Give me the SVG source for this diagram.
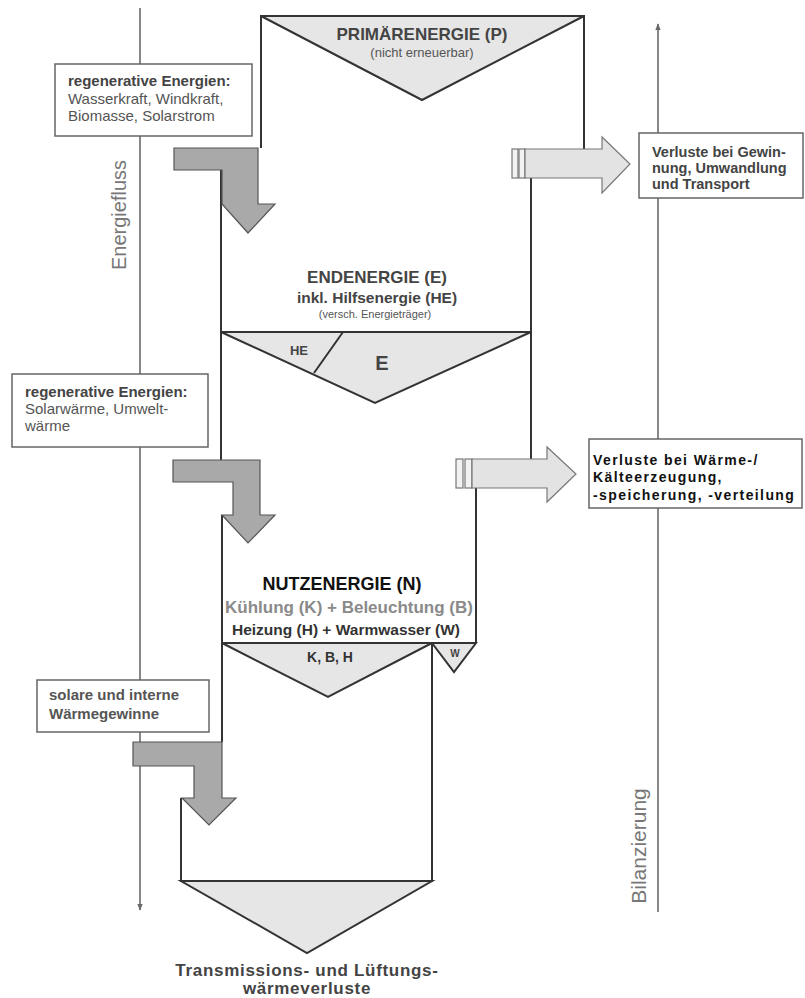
<svg xmlns="http://www.w3.org/2000/svg" width="805" height="998" viewBox="0 0 805 998">
<defs>
<style>
text{font-family:"Liberation Sans",Arial,sans-serif}
.edge{stroke:#333;stroke-width:2;fill:none}
.tri{fill:#e6e6e6;stroke:#333;stroke-width:2;stroke-linejoin:miter}
.gain{fill:#a9a9a9;stroke:#555;stroke-width:1.2}
.loss{fill:#e3e3e3;stroke:#777;stroke-width:1.2}
.bar{fill:#f2f2f2;stroke:#777;stroke-width:1.2}
.box{fill:#fff;stroke:#666;stroke-width:1.5}
.axis{stroke:#6a6a6a;stroke-width:1.6;fill:none}
.b{font-weight:bold}
.c{text-anchor:middle}
</style>
<marker id="ah" viewBox="0 0 10 10" refX="9" refY="5" markerWidth="7" markerHeight="7" orient="auto" markerUnits="userSpaceOnUse">
<path d="M0,1 L10,5 L0,9 Z" fill="#6a6a6a"/>
</marker>
</defs>
<rect width="805" height="998" fill="#fff"/>

<g id="connectors">
<line class="axis" x1="140" y1="8" x2="140" y2="910" marker-end="url(#ah)"/>
<line class="axis" x1="658" y1="912" x2="658" y2="24" marker-end="url(#ah)"/>
<text transform="translate(126,215) rotate(-90)" class="c" font-size="20" fill="#777">Energiefluss</text>
<text transform="translate(646,846) rotate(-90)" class="c" font-size="21" fill="#777">Bilanzierung</text>
</g>

<g id="primaerenergie">
<polygon class="tri" points="261,16 584,16 422,100"/>
<polyline class="edge" points="261,148 261,16 584,16 584,150"/>
<text x="422" y="40" class="b c" font-size="17" fill="#444">PRIMÄRENERGIE (P)</text>
<text x="422" y="57" class="c" font-size="13" fill="#555">(nicht erneuerbar)</text>
</g>

<g id="endenergie">
<line class="edge" x1="221" y1="170" x2="221" y2="460"/>
<line class="edge" x1="531" y1="178" x2="531" y2="459"/>
<polygon class="tri" points="221,332 531,332 375,403"/>
<line class="edge" x1="343" y1="332" x2="314" y2="373"/>
<text x="377" y="283" class="b c" font-size="17" fill="#444">ENDENERGIE (E)</text>
<text x="377" y="303" class="b c" font-size="15.5" fill="#444">inkl. Hilfsenergie (HE)</text>
<text x="375" y="318" class="c" font-size="11" fill="#555">(versch. Energieträger)</text>
<text x="299" y="355" class="b c" font-size="13" fill="#444">HE</text>
<text x="382" y="370" class="b c" font-size="20" fill="#444">E</text>
</g>

<g id="nutzenergie">
<line class="edge" x1="222" y1="515" x2="222" y2="742"/>
<line class="edge" x1="476" y1="488" x2="476" y2="643"/>
<polygon class="tri" points="222,643 432,643 328,697"/>
<polygon class="tri" points="432,643 476,643 454,672"/>
<text x="342" y="590" class="b c" font-size="18" fill="#111">NUTZENERGIE (N)</text>
<text x="349" y="613" class="b c" font-size="17" fill="#8a8a8a">Kühlung (K) + Beleuchtung (B)</text>
<text x="346" y="635" class="b c" font-size="15.5" fill="#333">Heizung (H) + Warmwasser (W)</text>
<text x="330" y="662" class="b c" font-size="14" fill="#333">K, B, H</text>
<text x="455" y="657" class="b c" font-size="10" fill="#444">W</text>
</g>

<g id="waermeverluste">
<polyline class="edge" points="181,798 181,881 432,881 432,643"/>
<polygon class="tri" points="181,881 432,881 307,953"/>
<text x="307" y="976" class="b c" font-size="17" letter-spacing="0.7" fill="#444">Transmissions- und Lüftungs-</text>
<text x="307" y="994" class="b c" font-size="17" letter-spacing="0.7" fill="#444">wärmeverluste</text>
</g>

<g id="gain1">
<polygon class="gain" points="174,148 258,148 258,204 275,204 248,233 222,204 222,170 174,170"/>
</g>
<g id="gain2">
<polygon class="gain" points="173,460 260,460 260,515 275,515 248,543 222,515 233,515 233,482 173,482"/>
</g>
<g id="gain3">
<polygon class="gain" points="133,742 222,742 222,798 236,798 209,825 182,798 194,798 194,766 133,766"/>
</g>

<g id="loss1">
<rect class="bar" x="512" y="149" width="6" height="29"/>
<rect class="bar" x="519" y="149" width="6" height="29"/>
<polygon class="loss" points="525,149 602,149 602,137 630,164 602,193 602,178 525,178"/>
</g>
<g id="loss2">
<rect class="bar" x="456" y="459" width="7" height="29"/>
<rect class="bar" x="465" y="459" width="7" height="29"/>
<polygon class="loss" points="472,459 547,459 547,447 576,474 547,502 547,488 472,488"/>
</g>

<g id="regen1">
<rect class="box" x="55" y="64" width="197" height="72"/>
<text x="68" y="86" class="b" font-size="15" fill="#444">regenerative Energien:</text>
<text x="68" y="104" font-size="15" fill="#555">Wasserkraft, Windkraft,</text>
<text x="68" y="121" font-size="15" fill="#555">Biomasse, Solarstrom</text>
</g>
<g id="regen2">
<rect class="box" x="12" y="374" width="196" height="73"/>
<text x="25" y="397" class="b" font-size="15" fill="#444">regenerative Energien:</text>
<text x="25" y="414" font-size="15" fill="#555">Solarwärme, Umwelt-</text>
<text x="25" y="431" font-size="15" fill="#555">wärme</text>
</g>
<g id="solar">
<rect class="box" x="37" y="680" width="172" height="52"/>
<text x="49" y="700" class="b" font-size="15" fill="#555">solare und interne</text>
<text x="49" y="719" class="b" font-size="15" fill="#555">Wärmegewinne</text>
</g>

<g id="verluste1">
<rect class="box" x="639" y="133" width="164" height="65"/>
<text x="652" y="157" class="b" font-size="14.5" fill="#444">Verluste bei Gewin-</text>
<text x="652" y="173" class="b" font-size="14.5" fill="#444">nung, Umwandlung</text>
<text x="652" y="189" class="b" font-size="14.5" fill="#444">und Transport</text>
</g>
<g id="verluste2">
<rect class="box" x="589" y="439" width="213" height="69"/>
<text x="593" y="465" class="b" font-size="14" letter-spacing="1.4" fill="#111">Verluste bei Wärme-/</text>
<text x="593" y="482" class="b" font-size="14" letter-spacing="1.4" fill="#111">Kälteerzeugung,</text>
<text x="593" y="499.5" class="b" font-size="14" letter-spacing="1.4" fill="#111">-speicherung, -verteilung</text>
</g>
</svg>
